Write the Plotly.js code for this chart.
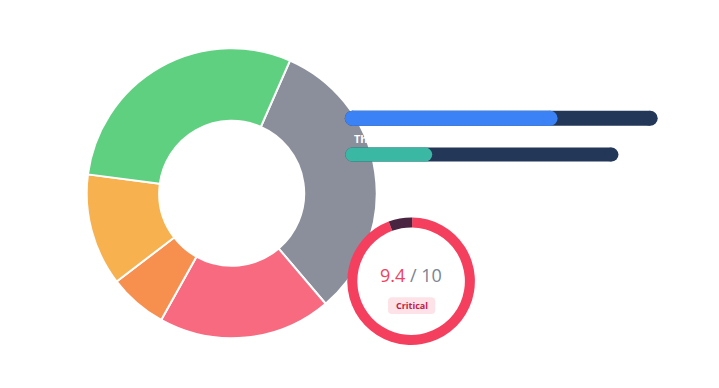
<!DOCTYPE html>
<html>
<head>
<meta charset="utf-8">
<script src="https://cdn.plot.ly/plotly-3.0.1.min.js"></script>
<style>
html,body{margin:0;padding:0;background:#ffffff;}
#wrap{position:relative;width:719px;height:388px;overflow:hidden;}
#base,#top{position:absolute;left:0;top:0;width:719px;height:388px;}
#top{pointer-events:none;}
</style>
</head>
<body>
<div id="wrap"><div id="base"></div><div id="top"></div></div>
<script>
// ---------- data ----------
const sliceLabels = ['Info', 'Critical', 'High', 'Medium', 'Low'];
const sliceValues = [32.2, 19.3, 6.5, 12.5, 29.5];
const sliceColors = ['#8a8f9b', '#f76a80', '#f78f4f', '#f7b14f', '#5fd080'];

const scoreValue = 9.4;
const scoreMax = 10;
const scoreLabel = 'Critical';

const barLabels = ['', 'Th'];
const barValues = [66.4, 24.5];
const barTotals = [100, 87];
const barColors = ['#3b82f6', '#3ab8a4'];
const trackColor = '#233759';

// ---------- layout helpers ----------
const W = 719, H = 388;
function dom(cx, cy, r) {
  return {x: [(cx - r) / W, (cx + r) / W], y: [(H - cy - r) / H, (H - cy + r) / H]};
}
const px = v => v / W;
const py = v => 1 - v / H;

function roundRect(x0, y0, x1, y1, r) {
  const p = (x, y) => px(x) + ',' + py(y);
  return 'M' + p(x0 + r, y0) + ' L' + p(x1 - r, y0) + ' Q' + p(x1, y0) + ' ' + p(x1, y0 + r) +
    ' L' + p(x1, y1 - r) + ' Q' + p(x1, y1) + ' ' + p(x1 - r, y1) +
    ' L' + p(x0 + r, y1) + ' Q' + p(x0, y1) + ' ' + p(x0, y1 - r) +
    ' L' + p(x0, y0 + r) + ' Q' + p(x0, y0) + ' ' + p(x0 + r, y0) + ' Z';
}

const FONT = 'Open Sans, Noto Sans, sans-serif';

// ---------- base plot: donut + score ring ----------
const donut = {
  type: 'pie',
  labels: sliceLabels,
  values: sliceValues,
  marker: {colors: sliceColors, line: {color: '#ffffff', width: 2}},
  hole: 0.5,
  sort: false,
  direction: 'clockwise',
  rotation: 23.7,
  textinfo: 'none',
  hoverinfo: 'label+value',
  domain: dom(231.7, 193.3, 145)
};

const ring = {
  type: 'pie',
  labels: ['Score', 'Remaining'],
  values: [scoreValue, scoreMax - scoreValue],
  marker: {colors: ['#f43f5e', '#4a2541'], line: {width: 0}},
  hole: 0.843,
  sort: false,
  direction: 'clockwise',
  rotation: 1,
  textinfo: 'none',
  hoverinfo: 'skip',
  domain: dom(411.1, 281.2, 63.8)
};

const baseLayout = {
  width: W, height: H,
  margin: {l: 0, r: 0, t: 0, b: 0, pad: 0},
  paper_bgcolor: '#ffffff',
  showlegend: false,
  font: {family: FONT},
  shapes: [{
    type: 'path', xref: 'paper', yref: 'paper',
    path: roundRect(388, 297.3, 435.3, 314, 4),
    fillcolor: '#fde3e7', line: {width: 0}, layer: 'above'
  }],
  annotations: [
    {
      xref: 'paper', yref: 'paper', x: px(411.3), y: py(275), xanchor: 'center', yanchor: 'middle',
      text: '<span style="color:#f43f5e">' + scoreValue.toFixed(1) + '</span> / ' + scoreMax,
      showarrow: false, borderpad: 0,
      font: {family: FONT, size: 18, color: '#7b8393'}
    },
    {
      xref: 'paper', yref: 'paper', x: px(411.7), y: py(305.8), xanchor: 'center', yanchor: 'middle',
      text: '<b>' + scoreLabel + '</b>',
      showarrow: false, borderpad: 0,
      font: {family: FONT, size: 9, color: '#c0214a'}
    }
  ]
};

Plotly.newPlot('base', [donut, ring], baseLayout, {staticPlot: true, displayModeBar: false});

// ---------- top plot: progress bars ----------
const barWidths = [15, 14];
const x0px = 352.25, unitPx = 2.9795;       // x = 0 position and pixels per unit
const y0px = 118.3, rowPx = 36.3;           // first bar row and row spacing

const barTraces = [];
barValues.forEach((v, i) => {
  barTraces.push({
    type: 'scatter', mode: 'lines+markers',
    x: [0, barTotals[i]], y: [i, i],
    line: {color: trackColor, width: barWidths[i]},
    marker: {color: trackColor, size: barWidths[i], line: {width: 0}},
    hoverinfo: 'skip', cliponaxis: false
  });
  barTraces.push({
    type: 'scatter', mode: 'lines+markers',
    x: [0, v], y: [i, i],
    line: {color: barColors[i], width: barWidths[i]},
    marker: {color: barColors[i], size: barWidths[i], line: {width: 0}},
    hoverinfo: 'skip', cliponaxis: false
  });
});

const topLayout = {
  width: W, height: H,
  margin: {l: 0, r: 0, t: 0, b: 0, pad: 0},
  paper_bgcolor: 'rgba(0,0,0,0)',
  plot_bgcolor: 'rgba(0,0,0,0)',
  showlegend: false,
  font: {family: FONT},
  xaxis: {range: [-x0px / unitPx, (W - x0px) / unitPx], visible: false, fixedrange: true},
  yaxis: {range: [(H - y0px) / rowPx, -y0px / rowPx], visible: false, fixedrange: true},
  annotations: [{
    xref: 'paper', yref: 'paper', x: px(352.5), y: py(138), xanchor: 'left', yanchor: 'middle',
    text: '<b>' + barLabels[1] + '</b>', showarrow: false, borderpad: 0,
    font: {family: FONT, size: 11, color: '#ffffff'}
  }]
};

Plotly.newPlot('top', barTraces, topLayout, {staticPlot: true, displayModeBar: false});
</script>
</body>
</html>
